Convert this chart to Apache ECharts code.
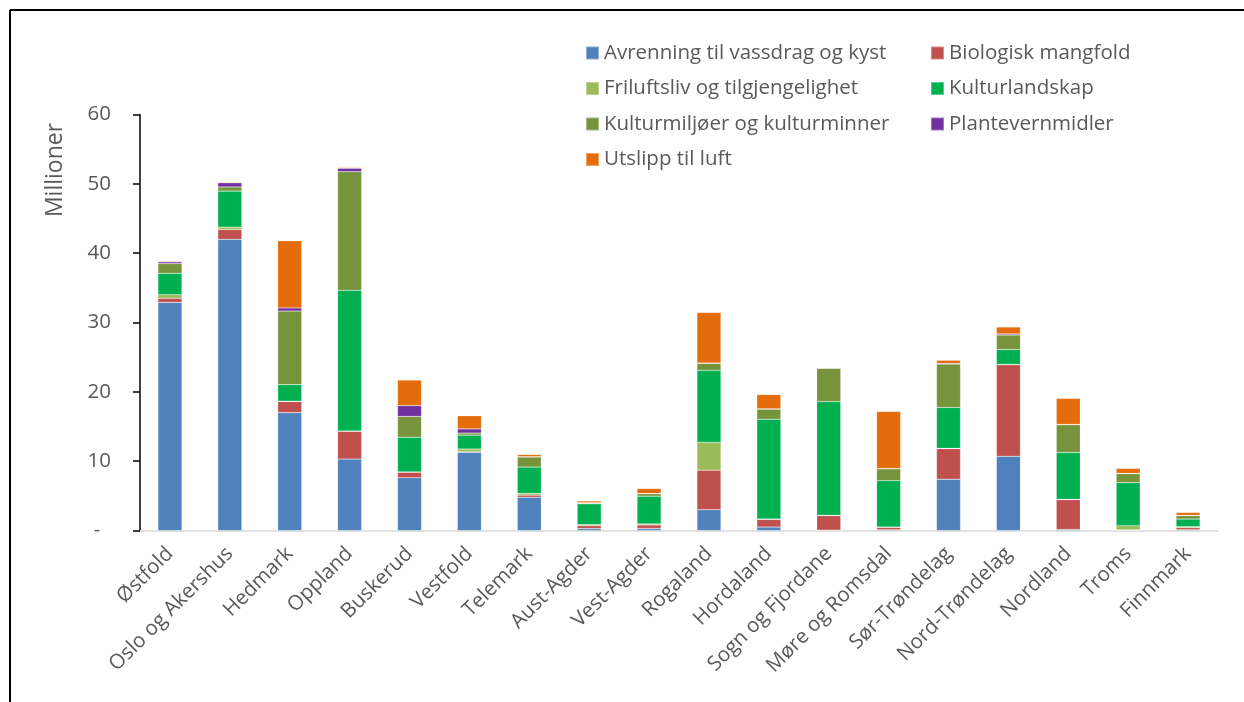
<!DOCTYPE html>
<html>
<head>
<meta charset="utf-8">
<script src="https://cdn.jsdelivr.net/npm/echarts@6/dist/echarts.min.js"></script>
<style>
html,body{margin:0;padding:0;background:#fff;}
#chart{width:1244px;height:702px;}
</style>
</head>
<body>
<div id="chart"></div>
<script>
const categories = ['Østfold','Oslo og Akershus','Hedmark','Oppland','Buskerud','Vestfold','Telemark','Aust-Agder','Vest-Agder','Rogaland','Hordaland','Sogn og Fjordane','Møre og Romsdal','Sør-Trøndelag','Nord-Trøndelag','Nordland','Troms','Finnmark'];
const seriesNames = ['Avrenning til vassdrag og kyst','Biologisk mangfold','Friluftsliv og tilgjengelighet','Kulturlandskap','Kulturmiljøer og kulturminner','Plantevernmidler','Utslipp til luft'];
const seriesColors = ['#4F81BD','#C0504D','#9BBB59','#00B050','#77933C','#7030A0','#E46C0A'];
const avrenning = [32.9, 42.0, 17.0, 10.3, 7.6, 11.3, 4.8, 0.3, 0.3, 3.0, 0.5, 0.05, 0.1, 7.4, 10.7, 0.15, 0.05, 0.1];
const biologisk = [0.6, 1.4, 1.6, 4.0, 0.8, 0.05, 0.3, 0.4, 0.5, 5.7, 1.1, 2.1, 0.35, 4.4, 13.2, 4.3, 0.05, 0.3];
const friluftsliv = [0.5, 0.35, 0.05, 0.05, 0.05, 0.4, 0.25, 0.15, 0.15, 4.0, 0.05, 0.05, 0.05, 0.05, 0.05, 0.05, 0.6, 0.15];
const kulturlandskap = [3.1, 5.2, 2.4, 20.3, 5.0, 2.0, 3.8, 3.0, 4.0, 10.4, 14.4, 16.4, 6.7, 5.9, 2.15, 6.75, 6.2, 1.1];
const kulturmiljoer = [1.4, 0.6, 10.6, 17.1, 3.0, 0.3, 1.45, 0.1, 0.35, 1.0, 1.45, 4.8, 1.7, 6.25, 2.1, 4.0, 1.3, 0.5];
const plantevern = [0.25, 0.6, 0.45, 0.5, 1.55, 0.6, 0.05, 0.05, 0.05, 0.05, 0.05, 0.0, 0.05, 0.1, 0.15, 0.05, 0.05, 0.05];
const utslipp = [0.1, 0.1, 9.7, 0.1, 3.7, 1.9, 0.3, 0.25, 0.7, 7.3, 2.05, 0.05, 8.2, 0.45, 1.0, 3.75, 0.7, 0.4];
const yTicks = [0, 10, 20, 30, 40, 50, 60];

const allData = [avrenning, biologisk, friluftsliv, kulturlandskap, kulturmiljoer, plantevern, utslipp];
const txt = '#595959';
const font = 'Open Sans';
const fs = 20.5;

const chart = echarts.init(document.getElementById('chart'));
chart.setOption({
  animation: false,
  textStyle: {fontFamily: font},
  grid: {left: 140, right: 26, top: 114.5, bottom: 171.5, containLabel: false},
  legend: [
    {
      data: [seriesNames[0], seriesNames[2], seriesNames[4], seriesNames[6]],
      orient: 'vertical', left: 580, top: 37.5, itemGap: 14.5,
      itemWidth: 13, itemHeight: 13, icon: 'rect',
      textStyle: {color: txt, fontSize: fs, fontFamily: font}
    },
    {
      data: [seriesNames[1], seriesNames[3], seriesNames[5]],
      orient: 'vertical', left: 925, top: 37.5, itemGap: 14.5,
      itemWidth: 13, itemHeight: 13, icon: 'rect',
      textStyle: {color: txt, fontSize: fs, fontFamily: font}
    }
  ],
  xAxis: {
    type: 'category',
    data: categories,
    axisLine: {lineStyle: {color: '#d9d9d9', width: 1.5}},
    axisTick: {show: false},
    axisLabel: {rotate: 45, color: txt, fontSize: fs, fontFamily: font, margin: 20, interval: 0}
  },
  yAxis: {
    type: 'value',
    min: yTicks[0], max: yTicks[yTicks.length - 1], interval: 10,
    axisLine: {show: true, lineStyle: {color: '#000', width: 1.5}},
    axisTick: {show: true, inside: false, length: 7, lineStyle: {color: '#000', width: 1.5}},
    splitLine: {show: false},
    axisLabel: {
      color: txt, fontSize: fs, fontFamily: font, margin: 29,
      formatter: function (v) { return v === 0 ? '-  ' : String(v); }
    }
  },
  graphic: [
    {type: 'line', shape: {x1: 10, y1: 10, x2: 1244, y2: 10}, style: {stroke: '#000', lineWidth: 2}},
    {type: 'line', shape: {x1: 10, y1: 10, x2: 10, y2: 702}, style: {stroke: '#000', lineWidth: 2}},
    {type: 'text', x: 55, y: 170, rotation: Math.PI / 2,
     style: {text: 'Millioner', fill: txt, font: '23px "Open Sans"', textAlign: 'center', textVerticalAlign: 'middle'}}
  ],
  series: seriesNames.map(function (name, i) {
    return {
      name: name,
      type: 'bar',
      stack: 'total',
      barWidth: 24,
      data: allData[i],
      itemStyle: {color: seriesColors[i], borderColor: 'rgba(255,255,255,0.35)', borderWidth: 0.5}
    };
  })
});
</script>
</body>
</html>
